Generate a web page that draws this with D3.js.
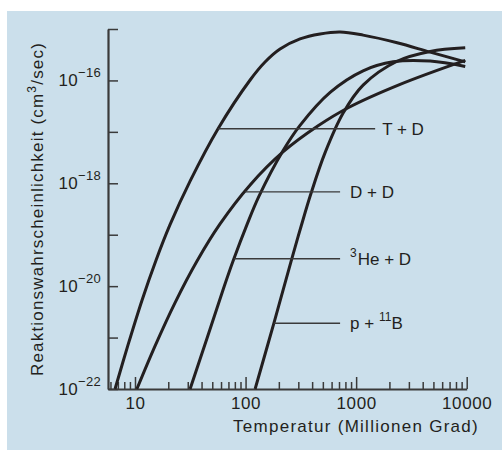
<!DOCTYPE html>
<html><head><meta charset="utf-8">
<script src="https://cdn.jsdelivr.net/npm/d3@7"></script>
<style>body{margin:0;background:#fff}</style>
</head><body><svg id="c" width="502" height="450"></svg>
<script>
// Temperatures in million degrees, reaction rates in cm^3/sec
const tdT = [6.6, 8.65, 11.6, 15.5, 20.7, 31.5, 56.4, 110, 150, 205, 311, 472, 716, 1156, 2349, 4674, 9700];
const tdV = [1e-22, 7.2e-22, 5.4e-21, 3.2e-20, 1.55e-19, 1.1e-18, 1.15e-17, 1.02e-16, 2.28e-16, 4.08e-16, 6.40e-16, 8.0e-16, 8.74e-16, 7.6e-16, 5.4e-16, 3.55e-16, 2.3e-16];

const ddT = [10.4, 15.2, 23.0, 36.4, 58.8, 110, 218, 453, 847, 2500, 9700];
const ddV = [1e-22, 6.9e-22, 4.74e-21, 3.08e-20, 1.62e-19, 9.27e-19, 4.06e-18, 1.31e-17, 2.94e-17, 8.37e-17, 2.45e-16];

const hedT = [31.5, 44.9, 63.8, 77.1, 103, 132, 218, 311, 582, 1156, 2163, 4674, 9700];
const hedV = [1e-22, 9.82e-22, 9.6e-21, 3.08e-20, 1.57e-19, 5.56e-19, 4.29e-18, 1.34e-17, 5.87e-17, 1.54e-16, 2.30e-16, 2.38e-16, 1.87e-16];

const pbT = [122, 181, 258, 318, 391, 524, 763, 1156, 2349, 4674, 9700];
const pbV = [1e-22, 1.96e-21, 3.04e-20, 1.46e-19, 6.38e-19, 3.94e-18, 2.32e-17, 8.11e-17, 2.36e-16, 3.66e-16, 4.30e-16];

// label leader lines: rate level, start temperature (on curve), end temperature
const labelNames = ["T + D", "D + D", "He + D", "p + B"];
const labelSup = ["", "", "3", "11"];
const labelLevel = [1.15e-17, 6.8e-19, 3.4e-20, 1.9e-21];
const labelStartT = [56.4, 98.9, 78.7, 181];
const labelEndT = [1486, 716, 716, 716];

const xMajor = [10, 100, 1000, 10000];
const xMinor = [6,7,8,9,20,30,40,50,60,70,80,90,200,300,400,500,600,700,800,900,2000,3000,4000,5000,6000,7000,8000,9000];
const yTickExp = [-22,-21,-20,-19,-18,-17,-16,-15];
const yLabelExp = [-22,-20,-18,-16];

const xTitle = "Temperatur (Millionen Grad)";
const yTitleMain = "Reaktionswahrscheinlichkeit (cm";
const yTitleSup = "3";
const yTitleEnd = "/sec)";

const FONT = "'Liberation Sans', Arial, Helvetica, sans-serif";
const INK = "#231f20";
const AX = "#3a3a3a";

const svg = d3.select('#c');
svg.append('rect').attr('x',7).attr('y',11).attr('width',495).attr('height',439).attr('fill','#cbdfeb');

const x = d3.scaleLog().domain([5.7, 10000]).range([108, 466.7]);
const y = d3.scaleLog().domain([1e-22, 1e-15]).range([389, 29]);

// X axis
const gxMinor = svg.append('g').attr('transform','translate(0,389)')
  .call(d3.axisBottom(x).tickValues(xMinor).tickSize(-7).tickSizeOuter(0).tickFormat(()=>""));
gxMinor.select('.domain').remove();
const gx = svg.append('g').attr('transform','translate(0,389)')
  .call(d3.axisBottom(x).tickValues(xMajor).tickSize(-12).tickSizeOuter(0).tickPadding(8).tickFormat(d3.format('d')));
svg.selectAll('.tick line').attr('stroke', AX).attr('stroke-width', 1.5);
gx.select('.domain').attr('stroke', AX).attr('stroke-width', 2.2);
gx.selectAll('text').attr('font-family', FONT).attr('font-size', 17).attr('fill', INK)
  .style('letter-spacing','0.6px');

// Y axis
const gy = svg.append('g').attr('transform','translate(108,0)')
  .call(d3.axisLeft(y).tickValues(yTickExp.map(e=>Math.pow(10,e))).tickSize(-10).tickSizeOuter(0).tickFormat(()=>""));
gy.select('.domain').attr('stroke', AX).attr('stroke-width', 2.2);
gy.selectAll('.tick line').attr('stroke', AX).attr('stroke-width', 1.5);

yLabelExp.forEach(e => {
  const t = svg.append('text').attr('x', 101).attr('y', y(Math.pow(10,e)) + 6)
    .attr('text-anchor','end').attr('font-family', FONT).attr('fill', INK);
  t.append('tspan').attr('font-size', 17).style('letter-spacing','0.3px').text('10');
  t.append('tspan').attr('font-size', 13).attr('dy', -9).style('letter-spacing','0.3px').text('\u2212' + Math.abs(e));
});

// Titles
function fit(sel, target) {
  const n = sel.text().length;
  const w = sel.node().getComputedTextLength();
  sel.style('letter-spacing', ((target - w) / n) + 'px');
}
const xt = svg.append('text').attr('x', 356).attr('y', 432).attr('text-anchor','middle')
  .attr('font-family', FONT).attr('font-size', 17).attr('fill', INK).text(xTitle);
fit(xt, 246);

const yt = svg.append('text').attr('transform','translate(43,209) rotate(-90)').attr('text-anchor','middle')
  .attr('font-family', FONT).attr('font-size', 17).attr('fill', INK);
yt.append('tspan').text(yTitleMain);
yt.append('tspan').attr('font-size', 12).attr('dy', -7).text(yTitleSup);
yt.append('tspan').attr('dy', 7).text(yTitleEnd);
fit(yt, 334);

// Curves
const line = d3.line().x(d=>x(d[0])).y(d=>y(d[1])).curve(d3.curveCatmullRom.alpha(0.5));
const series = [[tdT,tdV],[ddT,ddV],[hedT,hedV],[pbT,pbV]];
series.forEach(([T,V]) => {
  svg.append('path').attr('d', line(T.map((t,i)=>[t,V[i]])))
    .attr('fill','none').attr('stroke', INK).attr('stroke-width', 3).attr('stroke-linecap','butt');
});

// Labels with leader lines
labelNames.forEach((name, i) => {
  const ly = y(labelLevel[i]);
  const x1 = x(labelStartT[i]), x2 = x(labelEndT[i]);
  svg.append('line').attr('x1', x1).attr('x2', x2).attr('y1', ly).attr('y2', ly)
    .attr('stroke', AX).attr('stroke-width', 1.4);
  const tx = i === 0 ? x2 + 7 : x2 + 10;
  const t = svg.append('text').attr('x', tx).attr('y', ly + 6)
    .attr('font-family', FONT).attr('font-size', 17).attr('fill', INK);
  if (i === 2) {
    t.append('tspan').attr('font-size', 12).attr('dy', -8).text(labelSup[i]);
    t.append('tspan').attr('dy', 8).attr('dx', 1).text(name);
  } else if (i === 3) {
    t.append('tspan').text('p + ');
    t.append('tspan').attr('font-size', 12).attr('dy', -8).text(labelSup[i]);
    t.append('tspan').attr('dy', 8).text('B');
  } else {
    t.text(name);
  }
});
</script>
</body></html>
